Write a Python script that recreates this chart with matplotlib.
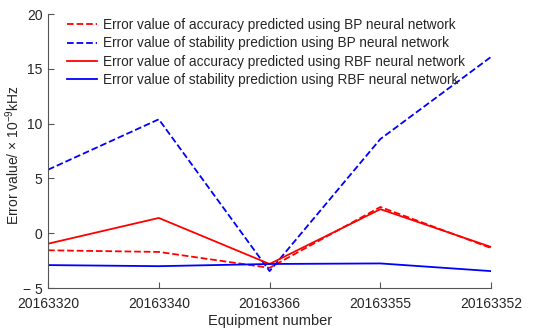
import matplotlib
matplotlib.use("Agg")
import matplotlib.pyplot as plt

plt.rcParams['font.family'] = ['Liberation Sans', 'DejaVu Sans']
plt.rcParams['mathtext.fontset'] = 'custom'
plt.rcParams['mathtext.rm'] = 'Liberation Sans'
plt.rcParams['mathtext.it'] = 'Liberation Sans'

categories = ["20163320", "20163340", "20163366", "20163355", "20163352"]
bp_accuracy = [-1.55, -1.7, -3.15, 2.4, -1.35]
bp_stability = [5.8, 10.4, -3.45, 8.6, 16.1]
rbf_accuracy = [-0.95, 1.4, -2.8, 2.2, -1.25]
rbf_stability = [-2.9, -3.0, -2.8, -2.75, -3.45]
yticks = [-5, 0, 5, 10, 15, 20]
ytick_labels = ["\u2212 5", "0", "5", "10", "15", "20"]

txt = '#262626'
fig = plt.figure(figsize=(5.5, 3.35), dpi=100)
ax = fig.add_axes([0.0873, 0.140, 0.8057, 0.818])
x = list(range(len(categories)))
ax.plot(x, bp_accuracy, color='#ff0000', ls='--', lw=1.3,
        label='Error value of accuracy predicted using BP neural network')
ax.plot(x, bp_stability, color='#0000ff', ls='--', lw=1.3,
        label='Error value of stability prediction using BP neural network')
ax.plot(x, rbf_accuracy, color='#ff0000', ls='-', lw=1.3,
        label='Error value of accuracy predicted using RBF neural network')
ax.plot(x, rbf_stability, color='#0000ff', ls='-', lw=1.3,
        label='Error value of stability prediction using RBF neural network')

ax.set_xlim(0, 4)
ax.set_ylim(-5, 20)
ax.set_xticks(x)
ax.set_xticklabels(categories, fontsize=10, color=txt)
ax.set_yticks(yticks)
ax.set_yticklabels(ytick_labels, fontsize=10, color=txt)
ax.tick_params(direction='in', length=4, color='#555555')
ax.tick_params(axis='x', pad=6.5)
ax.tick_params(axis='y', pad=4)
for s in ['top', 'right']:
    ax.spines[s].set_visible(False)
for s in ['left', 'bottom']:
    ax.spines[s].set_color('#555555')
ax.set_xlabel('Equipment number', fontsize=10.5, labelpad=2, color=txt)
ax.set_ylabel('Error value/ \u00d7 $\\mathregular{10^{-9}}$kHz', fontsize=10,
              color=txt)
ax.yaxis.set_label_coords(-0.058, 0.485)
leg = ax.legend(loc='upper left', bbox_to_anchor=(0.022, 1.02), frameon=False,
                fontsize=9.8, handlelength=2.2, handletextpad=0.4,
                labelspacing=0.32, borderaxespad=0.3)
for t in leg.get_texts():
    t.set_color(txt)
fig.savefig('out.png', dpi=100)
